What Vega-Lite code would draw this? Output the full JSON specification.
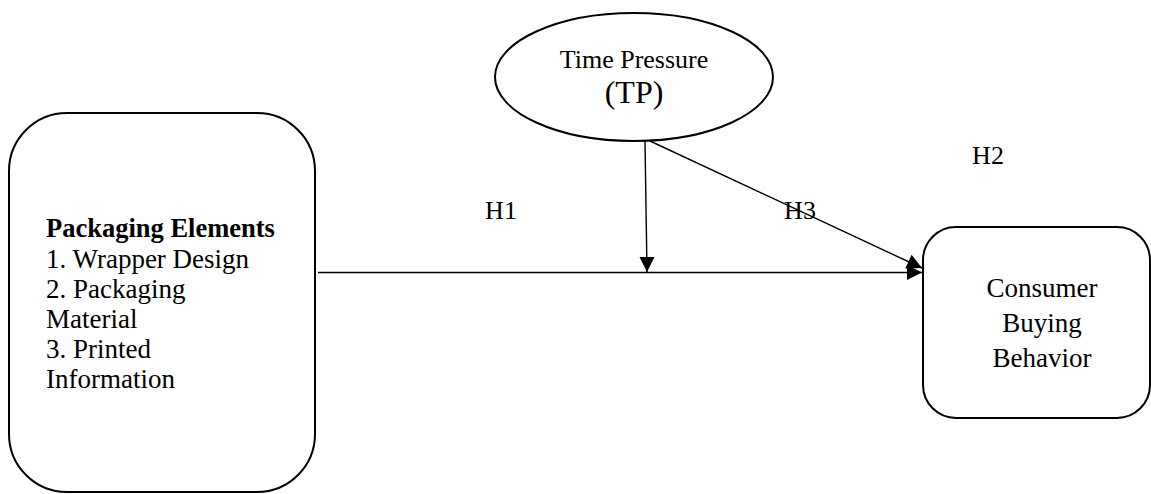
{
  "$schema": "https://vega.github.io/schema/vega-lite/v6.json",
  "width": 1151,
  "height": 494,
  "padding": 0,
  "autosize": {"type": "none"},
  "background": "white",
  "config": {"view": {"stroke": null}},
  "datasets": {
    "leftBox": [{"x": 9, "x2": 315, "y": 113, "y2": 492}],
    "rightBox": [{"x": 923, "x2": 1150, "y": 227, "y2": 418}],
    "construct": [{"x": 634, "y": 77, "name": "Time Pressure (TP)"}],
    "links": [
      {"x": 318, "y": 272.5, "x2": 922, "y2": 272.5, "path": "H1"},
      {"x": 645, "y": 141, "x2": 647, "y2": 272, "path": "H2"},
      {"x": 650, "y": 141, "x2": 922, "y2": 268, "path": "H3"}
    ],
    "headRight": [{"x": 922, "y": 272.5}],
    "headDown": [{"x": 647, "y": 272}],
    "headDiag": [{"x": 922, "y": 268}],
    "title": [{"x": 46, "y": 237, "text": "Packaging Elements"}],
    "items": [
      {"x": 46, "y": 268, "text": "1. Wrapper Design"},
      {"x": 46, "y": 298, "text": "2. Packaging"},
      {"x": 46, "y": 328, "text": "Material"},
      {"x": 46, "y": 358, "text": "3. Printed"},
      {"x": 46, "y": 388, "text": "Information"}
    ],
    "centered": [
      {"x": 634, "y": 68, "text": "Time Pressure"},
      {"x": 501, "y": 219, "text": "H1"},
      {"x": 988, "y": 164, "text": "H2"},
      {"x": 800, "y": 219, "text": "H3"}
    ],
    "outcome": [
      {"x": 1042, "y": 297, "text": "Consumer"},
      {"x": 1042, "y": 332, "text": "Buying"},
      {"x": 1042, "y": 367, "text": "Behavior"}
    ],
    "tp": [{"x": 634, "y": 103, "text": "(TP)"}]
  },
  "encoding": {
    "x": {"field": "x", "type": "quantitative", "scale": {"domain": [0, 1151], "nice": false, "zero": false}, "axis": null},
    "y": {"field": "y", "type": "quantitative", "scale": {"domain": [0, 494], "nice": false, "zero": false, "reverse": true}, "axis": null}
  },
  "layer": [
    {
      "data": {"name": "leftBox"},
      "mark": {"type": "rect", "cornerRadius": 58, "fill": "white", "stroke": "#000", "strokeWidth": 2},
      "encoding": {"x2": {"field": "x2"}, "y2": {"field": "y2"}}
    },
    {
      "data": {"name": "rightBox"},
      "mark": {"type": "rect", "cornerRadius": 33, "fill": "white", "stroke": "#000", "strokeWidth": 2},
      "encoding": {"x2": {"field": "x2"}, "y2": {"field": "y2"}}
    },
    {
      "data": {"name": "construct"},
      "mark": {"type": "point", "shape": "M1,0C1,0.2543,0.5523,0.4604,0,0.4604C-0.5523,0.4604,-1,0.2543,-1,0C-1,-0.2543,-0.5523,-0.4604,0,-0.4604C0.5523,-0.4604,1,-0.2543,1,0Z", "size": 77284, "filled": false, "stroke": "#000", "strokeWidth": 2, "opacity": 1}
    },
    {
      "data": {"name": "links"},
      "mark": {"type": "rule", "stroke": "#000", "strokeWidth": 1.4},
      "encoding": {"x2": {"field": "x2"}, "y2": {"field": "y2"}}
    },
    {
      "data": {"name": "headRight"},
      "mark": {"type": "point", "shape": "M0,0L-1,-0.5L-1,0.5Z", "size": 900, "filled": true, "fill": "#000", "stroke": null, "opacity": 1, "angle": 0}
    },
    {
      "data": {"name": "headDown"},
      "mark": {"type": "point", "shape": "M0,0L-1,-0.5L-1,0.5Z", "size": 900, "filled": true, "fill": "#000", "stroke": null, "opacity": 1, "angle": 90}
    },
    {
      "data": {"name": "headDiag"},
      "mark": {"type": "point", "shape": "M0,0L-1,-0.5L-1,0.5Z", "size": 900, "filled": true, "fill": "#000", "stroke": null, "opacity": 1, "angle": 25}
    },
    {
      "data": {"name": "title"},
      "mark": {"type": "text", "align": "left", "baseline": "alphabetic", "font": "Liberation Serif", "fontSize": 26.5, "fontWeight": "bold", "color": "#000"},
      "encoding": {"text": {"field": "text"}}
    },
    {
      "data": {"name": "items"},
      "mark": {"type": "text", "align": "left", "baseline": "alphabetic", "font": "Liberation Serif", "fontSize": 27, "color": "#000"},
      "encoding": {"text": {"field": "text"}}
    },
    {
      "data": {"name": "centered"},
      "mark": {"type": "text", "align": "center", "baseline": "alphabetic", "font": "Liberation Serif", "fontSize": 26, "color": "#000"},
      "encoding": {"text": {"field": "text"}}
    },
    {
      "data": {"name": "outcome"},
      "mark": {"type": "text", "align": "center", "baseline": "alphabetic", "font": "Liberation Serif", "fontSize": 27, "color": "#000"},
      "encoding": {"text": {"field": "text"}}
    },
    {
      "data": {"name": "tp"},
      "mark": {"type": "text", "align": "center", "baseline": "alphabetic", "font": "Liberation Serif", "fontSize": 32, "color": "#000"},
      "encoding": {"text": {"field": "text"}}
    }
  ]
}
